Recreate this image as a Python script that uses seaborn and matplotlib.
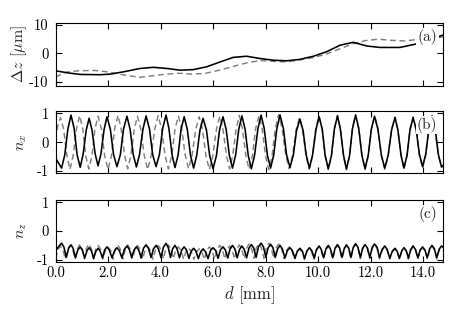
import numpy as np
import matplotlib
matplotlib.use("Agg")
import matplotlib.pyplot as plt
import seaborn as sns

# ---- data (d in mm) ----
D_TICKS = [0, 2, 4, 6, 8, 10, 12, 14]
D_TICK_LABELS = ["0.0", "2.0", "4.0", "6.0", "8.0", "10.0", "12.0", "14.0"]
DZ_TICKS = [-10, 0, 10]
DZ_TICK_LABELS = ["-10", "0", "10"]
N_TICKS = [-1, 0, 1]
N_TICK_LABELS = ["-1", "0", "1"]
PANEL_TAGS = ["(a)", "(b)", "(c)"]

# (a) height deviation
DZ_D_BLACK = [0.00, 0.43, 0.93, 1.70, 2.08, 2.58, 3.22, 3.73, 4.24, 4.74, 5.25, 5.76, 6.27,
              6.77, 7.28, 7.79, 8.30, 8.81, 9.31, 9.82, 10.33, 10.84, 11.34, 11.86, 12.36,
              13.12, 13.82, 14.30, 14.77]
DZ_BLACK = [-6.1, -6.8, -7.4, -7.5, -7.3, -6.5, -5.3, -4.9, -5.3, -5.9, -5.7, -4.7, -3.0,
            -1.4, -1.0, -1.8, -2.4, -2.6, -2.1, -1.0, 0.6, 2.9, 3.9, 2.6, 2.1,
            2.1, 3.5, 5.0, 6.5]
DZ_D_GRAY = [0.0, 0.4, 0.9, 1.5, 2.0, 2.6, 3.2, 3.7, 4.2, 4.7, 5.2, 5.7, 6.2, 6.8, 7.3,
             7.8, 8.3, 8.8, 9.3, 9.8, 10.3, 10.8, 11.3, 11.8, 12.3, 12.8, 13.3, 13.8,
             14.3, 14.77]
DZ_GRAY = [-8.3, -6.6, -6.1, -6.0, -6.5, -7.6, -8.4, -7.9, -7.3, -7.0, -7.3, -7.0, -6.0,
           -4.5, -3.3, -2.5, -2.8, -3.0, -2.3, -1.5, -0.3, 1.5, 3.3, 4.5, 5.0, 4.6, 4.4,
           4.9, 5.4, 5.8]

# (b) n_x
NX_D_BLACK = [0.00,
              0.23, 0.35, 0.47, 0.59, 0.71, 0.82,
              0.94, 1.05, 1.17, 1.28, 1.39, 1.51,
              1.62, 1.73, 1.85, 1.96, 2.09, 2.21,
              2.34, 2.47, 2.59, 2.72, 2.84, 2.96,
              3.08, 3.20, 3.33, 3.45, 3.58, 3.70,
              3.83, 3.96, 4.08, 4.21, 4.32, 4.44,
              4.55, 4.67, 4.78, 4.90, 5.02, 5.14,
              5.26, 5.38, 5.50, 5.62, 5.75, 5.87,
              6.00, 6.13, 6.25, 6.38, 6.50, 6.62,
              6.74, 6.86, 6.98, 7.10, 7.22, 7.34,
              7.46, 7.58, 7.71, 7.83, 7.95, 8.07,
              8.19, 8.31, 8.43, 8.55, 8.68, 8.80,
              8.93, 9.06, 9.18, 9.31, 9.43, 9.55,
              9.67, 9.79, 9.92, 10.04, 10.16, 10.27,
              10.39, 10.51, 10.62, 10.74, 10.85, 10.97,
              11.08, 11.20, 11.31, 11.43, 11.55, 11.67,
              11.79, 11.91, 12.03, 12.15, 12.28, 12.41,
              12.54, 12.67, 12.80, 12.93, 13.04, 13.16,
              13.27, 13.39, 13.50, 13.62, 13.74, 13.86,
              13.98, 14.10, 14.22, 14.34, 14.46, 14.58,
              14.70, 14.77]
NX_BLACK = [-0.55,
            -0.90, -0.45, 0.45, 0.94, 0.47, -0.43,
            -0.87, -0.43, 0.42, 0.83, 0.42, -0.41,
            -0.82, -0.41, 0.44, 0.88, 0.44, -0.43,
            -0.85, -0.43, 0.45, 0.90, 0.45, -0.43,
            -0.86, -0.43, 0.45, 0.91, 0.45, -0.43,
            -0.85, -0.42, 0.47, 0.94, 0.47, -0.44,
            -0.88, -0.44, 0.44, 0.88, 0.44, -0.45,
            -0.90, -0.45, 0.41, 0.83, 0.41, -0.46,
            -0.92, -0.46, 0.44, 0.88, 0.44, -0.45,
            -0.90, -0.45, 0.45, 0.91, 0.45, -0.46,
            -0.92, -0.46, 0.47, 0.94, 0.47, -0.45,
            -0.90, -0.45, 0.47, 0.94, 0.47, -0.44,
            -0.88, -0.44, 0.40, 0.80, 0.40, -0.45,
            -0.90, -0.45, 0.44, 0.88, 0.44, -0.46,
            -0.92, -0.46, 0.45, 0.91, 0.45, -0.46,
            -0.93, -0.46, 0.47, 0.94, 0.47, -0.46,
            -0.92, -0.46, 0.45, 0.90, 0.45, -0.45,
            -0.90, -0.45, 0.42, 0.85, 0.42, -0.45,
            -0.90, -0.45, 0.42, 0.85, 0.42, -0.42,
            -0.85, -0.42, 0.45, 0.90, 0.45, -0.42,
            -0.85, -0.80]
NX_D_GRAY = [0.00, 0.08,
             0.19, 0.31, 0.43, 0.55, 0.67, 0.80,
             0.92, 1.04, 1.15, 1.27, 1.39, 1.50,
             1.62, 1.75, 1.87, 2.00, 2.13, 2.25,
             2.38, 2.50, 2.63, 2.75, 2.87, 3.00,
             3.12, 3.25, 3.38, 3.51, 3.64, 3.78,
             3.91, 4.04, 4.17, 4.30, 4.43, 4.55,
             4.68, 4.81, 4.94, 5.07, 5.20, 5.34,
             5.47, 5.60, 5.73, 5.86, 5.99, 6.13,
             6.26, 6.38, 6.51, 6.63, 6.75, 6.88,
             7.00, 7.12, 7.25, 7.37, 7.50, 7.62,
             7.75, 7.87, 8.00, 8.12, 8.25, 8.37,
             8.50, 8.63, 8.77, 8.90, 9.03, 9.16,
             9.29, 9.41, 9.54, 9.66, 9.79, 9.91,
             10.04, 10.16, 10.27, 10.39, 10.51, 10.62,
             10.74, 10.85, 10.97, 11.08, 11.20, 11.31,
             11.43, 11.55, 11.67, 11.79, 11.91, 12.03,
             12.15, 12.28, 12.41, 12.54, 12.67, 12.80,
             12.93, 13.04, 13.16, 13.27, 13.39, 13.50,
             13.62, 13.74, 13.86, 13.98, 14.10, 14.22,
             14.34, 14.46, 14.58, 14.70, 14.77]
NX_GRAY = [0.10, 0.55,
           0.85, 0.45, -0.45, -0.95, -0.47, 0.46,
           0.92, 0.46, -0.47, -0.93, -0.46, 0.45,
           0.90, 0.45, -0.47, -0.95, -0.47, 0.46,
           0.93, 0.46, -0.46, -0.92, -0.46, 0.45,
           0.90, 0.45, -0.47, -0.95, -0.47, 0.46,
           0.92, 0.46, -0.46, -0.93, -0.46, 0.45,
           0.90, 0.45, -0.46, -0.92, -0.46, 0.44,
           0.88, 0.44, -0.47, -0.95, -0.47, 0.45,
           0.90, 0.45, -0.46, -0.93, -0.46, 0.46,
           0.93, 0.46, -0.47, -0.94, -0.47, 0.46,
           0.92, 0.46, -0.47, -0.95, -0.47, 0.47,
           0.95, 0.47, -0.46, -0.92, -0.46, 0.42,
           0.85, 0.42, -0.46, -0.93, -0.46, 0.45,
           0.90, 0.45, -0.47, -0.95, -0.47, 0.47,
           0.93, 0.47, -0.48, -0.96, -0.48, 0.48,
           0.95, 0.48, -0.47, -0.95, -0.47, 0.46,
           0.92, 0.46, -0.47, -0.94, -0.47, 0.44,
           0.88, 0.44, -0.46, -0.93, -0.46, 0.44,
           0.88, 0.44, -0.45, -0.90, -0.45, 0.46,
           0.92, 0.46, -0.44, -0.88, -0.84]

# (c) n_z
NZ_D_BLACK = [0.00, 0.12, 0.23, 0.32, 0.41,
              0.50, 0.59, 0.67, 0.76,
              0.85, 0.94, 1.02, 1.11,
              1.20, 1.28, 1.37, 1.45,
              1.54, 1.62, 1.70, 1.79,
              1.87, 1.96, 2.05, 2.15,
              2.25, 2.34, 2.43, 2.53,
              2.62, 2.72, 2.81, 2.90,
              2.99, 3.08, 3.17, 3.26,
              3.35, 3.45, 3.54, 3.64,
              3.73, 3.83, 3.92, 4.02,
              4.11, 4.21, 4.29, 4.38,
              4.46, 4.55, 4.63, 4.72,
              4.81, 4.90, 4.99, 5.08,
              5.17, 5.26, 5.35, 5.44,
              5.53, 5.62, 5.71, 5.81,
              5.90, 6.00, 6.10, 6.19,
              6.28, 6.38, 6.47, 6.56,
              6.65, 6.74, 6.83, 6.92,
              7.01, 7.10, 7.19, 7.28,
              7.37, 7.46, 7.55, 7.64,
              7.73, 7.83, 7.92, 8.01,
              8.10, 8.19, 8.28, 8.37,
              8.46, 8.55, 8.64, 8.74,
              8.83, 8.93, 9.02, 9.12,
              9.21, 9.31, 9.40, 9.49,
              9.58, 9.67, 9.76, 9.85,
              9.94, 10.04, 10.12, 10.21,
              10.30, 10.39, 10.47, 10.56,
              10.65, 10.74, 10.82, 10.91,
              11.00, 11.08, 11.17, 11.25,
              11.34, 11.43, 11.52, 11.61,
              11.70, 11.79, 11.88, 11.97,
              12.06, 12.15, 12.25, 12.34,
              12.44, 12.54, 12.63, 12.73,
              12.83, 12.93, 13.01, 13.10,
              13.19, 13.27, 13.36, 13.44,
              13.53, 13.62, 13.71, 13.80,
              13.89, 13.98, 14.07, 14.16,
              14.25, 14.34, 14.43, 14.52,
              14.61, 14.70, 14.77]
NZ_BLACK = [-0.70, -0.54, -0.42, -0.56, -0.92,
            -0.60, -0.48, -0.60, -0.93,
            -0.66, -0.55, -0.66, -0.94,
            -0.68, -0.58, -0.69, -0.95,
            -0.70, -0.60, -0.70, -0.94,
            -0.66, -0.55, -0.66, -0.93,
            -0.68, -0.58, -0.68, -0.94,
            -0.64, -0.52, -0.64, -0.93,
            -0.66, -0.55, -0.66, -0.94,
            -0.60, -0.48, -0.60, -0.92,
            -0.62, -0.50, -0.62, -0.93,
            -0.56, -0.43, -0.56, -0.92,
            -0.62, -0.50, -0.62, -0.93,
            -0.66, -0.55, -0.66, -0.95,
            -0.70, -0.60, -0.70, -0.96,
            -0.72, -0.62, -0.72, -0.96,
            -0.68, -0.58, -0.68, -0.95,
            -0.66, -0.55, -0.66, -0.94,
            -0.62, -0.50, -0.62, -0.93,
            -0.64, -0.52, -0.64, -0.93,
            -0.59, -0.47, -0.59, -0.92,
            -0.55, -0.42, -0.55, -0.91,
            -0.58, -0.46, -0.58, -0.92,
            -0.62, -0.50, -0.62, -0.94,
            -0.68, -0.58, -0.68, -0.95,
            -0.70, -0.60, -0.70, -0.95,
            -0.68, -0.58, -0.68, -0.94,
            -0.64, -0.52, -0.64, -0.93,
            -0.62, -0.50, -0.62, -0.93,
            -0.59, -0.47, -0.59, -0.92,
            -0.60, -0.48, -0.60, -0.92,
            -0.57, -0.44, -0.57, -0.92,
            -0.59, -0.47, -0.59, -0.92,
            -0.57, -0.45, -0.57, -0.92,
            -0.64, -0.52, -0.64, -0.94,
            -0.70, -0.60, -0.70, -0.95,
            -0.68, -0.58, -0.68, -0.94,
            -0.64, -0.52, -0.64, -0.93,
            -0.66, -0.55, -0.66, -0.93,
            -0.62, -0.50, -0.62, -0.93,
            -0.64, -0.52, -0.56]
NZ_D_GRAY = [0.00,
             0.10, 0.19, 0.28, 0.37,
             0.46, 0.55, 0.65, 0.74,
             0.83, 0.92, 1.01, 1.10,
             1.18, 1.27, 1.36, 1.45,
             1.53, 1.62, 1.72, 1.81,
             1.90, 2.00, 2.10, 2.19,
             2.28, 2.38, 2.47, 2.57,
             2.66, 2.75, 2.84, 2.94,
             3.03, 3.12, 3.22, 3.32,
             3.41, 3.51, 3.61, 3.71,
             3.81, 3.91, 4.01, 4.11,
             4.20, 4.30, 4.39, 4.49,
             4.58, 4.68, 4.78, 4.88,
             4.97, 5.07, 5.17, 5.27,
             5.37, 5.47, 5.57, 5.67,
             5.76, 5.86, 5.96, 6.06,
             6.16, 6.26, 6.35, 6.45,
             6.54, 6.63, 6.72, 6.82,
             6.91, 7.00, 7.09, 7.19,
             7.28, 7.37, 7.46, 7.56,
             7.65, 7.75, 7.84, 7.94,
             8.03, 8.12, 8.21, 8.31,
             8.40, 8.50, 8.60, 8.70,
             8.80, 8.90, 9.00, 9.10,
             9.19, 9.29, 9.38, 9.48,
             9.57, 9.66, 9.75, 9.85,
             9.94, 10.04, 10.12, 10.21,
             10.30, 10.39, 10.47, 10.56,
             10.65, 10.74, 10.82, 10.91,
             11.00, 11.08, 11.17, 11.25,
             11.34, 11.43, 11.52, 11.61,
             11.70, 11.79, 11.88, 11.97,
             12.06, 12.15, 12.25, 12.34,
             12.44, 12.54, 12.63, 12.73,
             12.83, 12.93, 13.01, 13.10,
             13.19, 13.27, 13.36, 13.44,
             13.53, 13.62, 13.71, 13.80,
             13.89, 13.98, 14.07, 14.16,
             14.25, 14.34, 14.43, 14.52,
             14.61, 14.70, 14.77]
NZ_GRAY = [-0.95,
           -0.64, -0.52, -0.65, -0.97,
           -0.63, -0.50, -0.63, -0.97,
           -0.62, -0.48, -0.62, -0.97,
           -0.60, -0.45, -0.60, -0.98,
           -0.63, -0.50, -0.63, -0.97,
           -0.67, -0.55, -0.67, -0.98,
           -0.63, -0.50, -0.63, -0.97,
           -0.62, -0.48, -0.62, -0.96,
           -0.63, -0.50, -0.63, -0.97,
           -0.67, -0.55, -0.67, -0.98,
           -0.63, -0.50, -0.63, -0.97,
           -0.62, -0.48, -0.62, -0.96,
           -0.67, -0.55, -0.67, -0.98,
           -0.71, -0.60, -0.71, -0.99,
           -0.72, -0.62, -0.72, -0.99,
           -0.67, -0.55, -0.67, -0.98,
           -0.63, -0.50, -0.63, -0.97,
           -0.65, -0.52, -0.65, -0.97,
           -0.62, -0.48, -0.62, -0.96,
           -0.59, -0.45, -0.59, -0.95,
           -0.58, -0.44, -0.58, -0.95,
           -0.57, -0.42, -0.57, -0.95,
           -0.59, -0.45, -0.59, -0.96,
           -0.67, -0.55, -0.67, -0.98,
           -0.72, -0.62, -0.72, -0.99,
           -0.71, -0.60, -0.71, -0.98,
           -0.67, -0.55, -0.67, -0.97,
           -0.65, -0.52, -0.65, -0.97,
           -0.63, -0.50, -0.63, -0.97,
           -0.63, -0.50, -0.63, -0.96,
           -0.60, -0.46, -0.60, -0.96,
           -0.61, -0.48, -0.61, -0.96,
           -0.61, -0.47, -0.61, -0.96,
           -0.67, -0.55, -0.67, -0.98,
           -0.72, -0.62, -0.72, -0.99,
           -0.71, -0.60, -0.71, -0.98,
           -0.67, -0.55, -0.67, -0.97,
           -0.69, -0.57, -0.69, -0.97,
           -0.65, -0.52, -0.65, -0.97,
           -0.67, -0.55, -0.58]

BLACK = "#000000"
GRAY = "#808080"

sns.set_theme(style="ticks")
plt.rcParams.update({
    "font.family": ["cmr10"],
    "mathtext.fontset": "cm",
    "axes.unicode_minus": False,
    "axes.formatter.use_mathtext": True,
    "axes.edgecolor": "black",
    "axes.linewidth": 0.8,
})

fig = plt.figure(figsize=(4.6, 3.2), dpi=100)
left, width = 0.1207, 0.843
ax_a = fig.add_axes([left, 0.731, width, 0.198])
ax_b = fig.add_axes([left, 0.4584, width, 0.1956])
ax_c = fig.add_axes([left, 0.181, width, 0.195])


def draw_pair(ax, d_gray, v_gray, d_black, v_black):
    # gray dashed underneath, solid black on top
    sns.lineplot(x=d_gray, y=v_gray, ax=ax, color=GRAY, linewidth=1.05,
                 linestyle=(0, (4, 2.5)), estimator=None, sort=False)
    sns.lineplot(x=d_black, y=v_black, ax=ax, color=BLACK, linewidth=1.15,
                 estimator=None, sort=False)


draw_pair(ax_a, DZ_D_GRAY, DZ_GRAY, DZ_D_BLACK, DZ_BLACK)
draw_pair(ax_b, NX_D_GRAY, NX_GRAY, NX_D_BLACK, NX_BLACK)
draw_pair(ax_c, NZ_D_GRAY, NZ_GRAY, NZ_D_BLACK, NZ_BLACK)

ax_a.set_ylim(-11.5, 10.8)
ax_a.set_yticks(DZ_TICKS, DZ_TICK_LABELS)
ax_a.set_ylabel(r"$\Delta z$ [$\mu$m]", fontsize=11.5)
for ax in (ax_b, ax_c):
    ax.set_ylim(-1.08, 1.09)
    ax.set_yticks(N_TICKS, N_TICK_LABELS)
ax_b.set_ylabel(r"$n_x$", fontsize=11.5)
ax_c.set_ylabel(r"$n_z$", fontsize=11.5)

for ax, tag in zip((ax_a, ax_b, ax_c), PANEL_TAGS):
    ax.set_xlim(0, 14.77)
    ax.set_xticks(D_TICKS, D_TICK_LABELS)
    ax.tick_params(direction="in", top=True, right=True, length=4, width=0.8,
                   labelsize=10.5, colors="black")
    ax.tick_params(axis="x", pad=3)
    ax.tick_params(axis="y", pad=5)
    ax.yaxis.set_label_coords(-0.068, 0.5)
    ax.set_xlabel("")
    ax.text(0.985, 0.77, tag, transform=ax.transAxes, ha="right", va="center",
            fontsize=11, zorder=10,
            bbox=dict(facecolor="white", edgecolor="none", pad=1.0))
    for sp in ax.spines.values():
        sp.set_visible(True)
        sp.set_color("black")

ax_a.tick_params(labelbottom=False)
ax_b.tick_params(labelbottom=False)
ax_c.set_xlabel(r"$d$ [mm]", fontsize=12)
ax_c.xaxis.set_label_coords(0.5, -0.36)

fig.savefig("out.png", dpi=100)
